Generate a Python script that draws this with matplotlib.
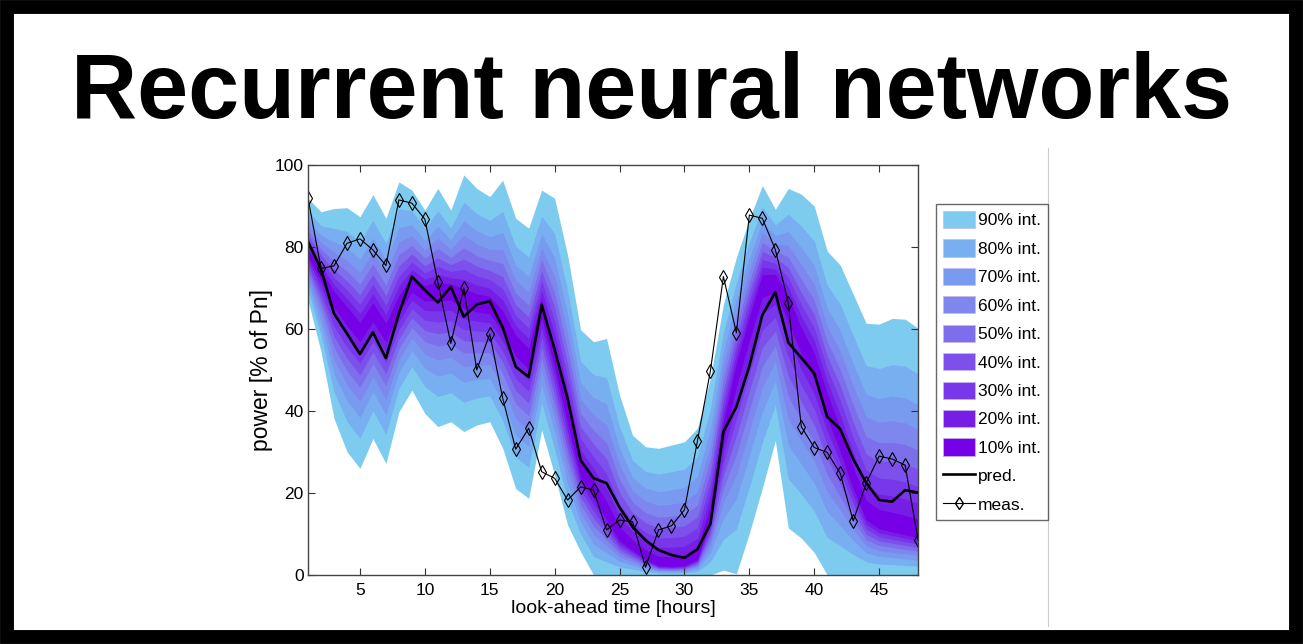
import numpy as np
import matplotlib
matplotlib.use('Agg')
import matplotlib.pyplot as plt
from matplotlib.patches import Patch, Rectangle
from matplotlib.lines import Line2D

plt.rcParams['font.family'] = ['Liberation Sans', 'DejaVu Sans']

# look-ahead hours
hours = list(range(1, 49))

# measured power [% of Pn]
meas = [91.9, 74.8, 75.4, 80.9, 82.0, 79.3, 75.5, 91.5, 90.7, 86.8, 71.5, 56.5,
        70.0, 50.0, 58.8, 43.1, 30.7, 35.8, 25.2, 23.6, 18.3, 21.5, 20.7, 11.0,
        13.4, 13.0, 1.9, 11.0, 12.0, 15.9, 32.7, 49.8, 72.8, 59.1, 87.8, 87.0,
        79.4, 66.4, 36.2, 31.1, 29.9, 24.8, 13.2, 22.4, 29.0, 28.3, 26.8, 8.5]

# point prediction
pred = [81.3, 74.6, 63.8, 58.9, 53.9, 59.2, 52.9, 63.8, 72.8, 69.5, 66.5, 70.3,
        63.0, 66.0, 66.8, 60.4, 50.8, 48.3, 65.9, 55.0, 43.0, 28.0, 23.6, 22.4,
        16.5, 11.8, 8.5, 6.1, 4.9, 4.2, 6.3, 12.5, 35.0, 41.0, 51.0, 63.4,
        69.0, 56.7, 53.0, 49.2, 38.6, 35.6, 28.3, 22.5, 18.3, 17.9, 20.7, 20.1]

# centre of the predictive distribution
centre = [78.5, 73.2, 67.5, 63.4, 59.5, 64.2, 59.3, 65.9, 71.0, 69.1, 69.5, 69.5,
          67.5, 66.5, 65.9, 61.8, 56.1, 52.8, 65.0, 52.8, 39.0, 25.2, 20.3, 14.6,
          9.0, 6.5, 4.1, 2.4, 2.2, 2.4, 4.1, 14.6, 35.0, 49.6, 61.0, 71.5,
          72.0, 65.9, 57.7, 51.2, 41.5, 32.5, 22.8, 14.6, 12.2, 11.4, 10.6, 9.8]

# 90% interval bounds
hi90 = [91.9, 88.6, 89.4, 89.6, 87.4, 92.8, 87.0, 95.9, 93.9, 89.0, 94.3, 89.0,
        97.6, 94.3, 92.3, 96.3, 87.0, 84.6, 93.9, 91.9, 78.0, 59.8, 56.9, 57.7,
        43.9, 34.1, 31.3, 30.9, 31.7, 32.5, 35.8, 48.0, 66.0, 77.5, 86.8, 95.0,
        89.2, 94.3, 92.9, 90.0, 79.0, 75.6, 68.5, 61.4, 61.2, 62.6, 62.4, 60.2]
lo90 = [67.0, 54.5, 38.2, 30.1, 26.0, 33.3, 27.2, 39.8, 45.1, 39.4, 36.2, 37.4,
        35.0, 36.6, 37.4, 30.9, 21.1, 18.7, 35.4, 24.4, 12.2, 5.7, 0.0, 0.0,
        0.0, 0.0, 0.0, 0.0, 0.0, 0.0, 0.0, 0.0, 1.2, 0.3, 10.2, 21.2,
        32.8, 11.5, 9.0, 5.5, 0.0, 0.0, 0.0, 0.0, 0.0, 0.0, 0.0, 0.0]

levels = [90, 80, 70, 60, 50, 40, 30, 20, 10]
colors = ['#7ecbf0', '#78aff0', '#789bf0', '#7d87ee', '#7d6eeb',
          '#7d50eb', '#7837eb', '#761ee6', '#7600e6']

# normal quantile for each central interval, relative to the 90% one
zq = {90: 1.645, 80: 1.282, 70: 1.036, 60: 0.842, 50: 0.674,
      40: 0.524, 30: 0.385, 20: 0.253, 10: 0.126}

x = np.array(hours)
c = np.array(centre)
hi = np.array(hi90)
lo = np.array(lo90)

fig = plt.figure(figsize=(13.03, 6.44), dpi=100)
ax = fig.add_axes([0.2364, 0.1071, 0.4682, 0.6366])

for lev, col in zip(levels, colors):
    r = zq[lev] / zq[90]
    ax.fill_between(x, c - r * (c - lo), c + r * (hi - c), color=col,
                    linewidth=0, antialiased=True)

ax.plot(x, pred, color='black', lw=1.9)
ax.plot(x, meas, color='black', lw=0.8, marker='d', markersize=7.5,
        markerfacecolor='none', markeredgecolor='black', markeredgewidth=0.8)

ax.set_xlim(1, 48)
ax.set_ylim(0, 100)
ax.set_xticks([5, 10, 15, 20, 25, 30, 35, 40, 45])
ax.set_yticks([0, 20, 40, 60, 80, 100])
ax.tick_params(direction='in', top=True, right=True, length=5, width=0.8,
               labelsize=12.5, pad=6, colors='#333333', labelcolor='black')
ax.tick_params(axis='y', pad=3)
for s in ax.spines.values():
    s.set_color('#444444')
    s.set_linewidth(1.0)
ax.set_xlabel('look-ahead time [hours]', fontsize=14, labelpad=1)
ax.set_ylabel('power [% of Pn]', fontsize=16.5, labelpad=1)

handles = [Patch(facecolor=col, edgecolor='#c8b8f0', linewidth=0.5,
                 label='%d%% int.' % lev) for lev, col in zip(levels, colors)]
handles.append(Line2D([], [], color='black', lw=1.9, label='pred.'))
handles.append(Line2D([], [], color='black', lw=0.8, marker='d', markersize=6.5,
                      markerfacecolor='none', label='meas.'))
leg = fig.legend(handles=handles, loc='upper left',
                 bbox_to_anchor=(0.7183, 0.6832), bbox_transform=fig.transFigure,
                 borderaxespad=0, fontsize=12.5, frameon=True, fancybox=False,
                 edgecolor='#444444', handlelength=1.85, handleheight=1.15,
                 labelspacing=0.63, handletextpad=0.17, borderpad=0.4)
leg.get_frame().set_linewidth(1.0)

# thin separator on the right
fig.add_artist(Line2D([1048 / 1303, 1048 / 1303], [1 - 148 / 644, 1 - 626 / 644],
                      color='#cccccc', lw=0.8, transform=fig.transFigure))

fig.text(0.5, 1 - 118 / 644, 'Recurrent neural networks', ha='center',
         va='baseline', fontsize=66, fontweight='bold')

# heavy black frame
fig.add_artist(Rectangle((7 / 1303, 7 / 644), 1 - 14 / 1303, 1 - 14 / 644,
                         transform=fig.transFigure, fill=False,
                         edgecolor='black', lw=10))

fig.savefig('out.png', dpi=100)
